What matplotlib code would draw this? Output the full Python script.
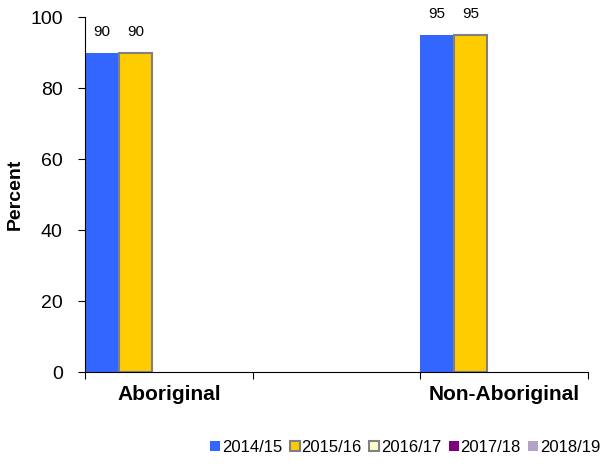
import numpy as np
import matplotlib.pyplot as plt

plt.rcParams['font.family'] = ['Liberation Sans', 'DejaVu Sans']

categories = ["Aboriginal", "", "Non-Aboriginal"]
series = ["2014/15", "2015/16", "2016/17", "2017/18", "2018/19"]
values_1415 = [90, np.nan, 95]
values_1516 = [90, np.nan, 95]
values_1617 = [np.nan, np.nan, np.nan]
values_1718 = [np.nan, np.nan, np.nan]
values_1819 = [np.nan, np.nan, np.nan]

all_values = [values_1415, values_1516, values_1617, values_1718, values_1819]
colors = ["#3366FF", "#FFCC00", "#FFFFCC", "#800080", "#B3A2C7"]
edges = ["#3366FF", "#808080", "#808080", "#800080", "#B3A2C7"]

fig = plt.figure(figsize=(6.03, 4.70), dpi=100)
ax = fig.add_axes([0.141, 0.2085, 0.834, 0.7553])

n = len(series)
width = 1.0 / n
x = np.arange(len(categories))
for j, (name, vals) in enumerate(zip(series, all_values)):
    bars = ax.bar(x + j * width, vals, width, align='edge', color=colors[j],
                  edgecolor=edges[j], linewidth=1.5 if j in (1, 2) else 0,
                  label=name)
    for b, v in zip(bars, vals):
        if not np.isnan(v):
            ax.text(b.get_x() + b.get_width() / 2, v + 3.8, f"{v:.0f}",
                    ha='center', va='bottom', fontsize=11)

ax.set_xlim(0, len(categories))
ax.set_ylim(0, 100)
ax.set_yticks(np.arange(0, 101, 20))
ax.set_xticks(np.arange(len(categories) + 1))
ax.set_xticklabels([])
ax.set_xticks(x + 0.5, minor=True)
ax.set_xticklabels(categories, minor=True, fontweight='bold', fontsize=15)
ax.tick_params(axis='x', which='minor', length=0, pad=9)
ax.tick_params(axis='x', which='major', direction='out', length=5)
ax.tick_params(axis='y', direction='out', length=5, labelsize=14, pad=11)

for s in ['top', 'right']:
    ax.spines[s].set_visible(False)

ax.set_ylabel("Percent", fontweight='bold', fontsize=14)
ax.yaxis.set_label_coords(-0.122, 0.5)

fig.legend(loc='lower center', bbox_to_anchor=(0.672, 0.0), ncol=5,
           frameon=False, fontsize=12, handlelength=0.6, handleheight=0.6,
           handletextpad=0.1, columnspacing=0.45)

fig.savefig("out.png", dpi=100)
